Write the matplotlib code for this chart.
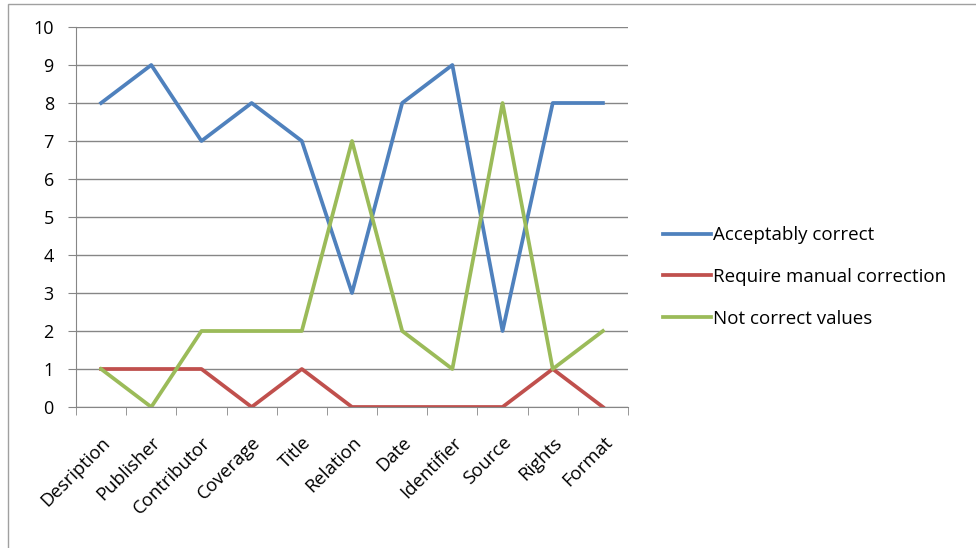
import matplotlib.pyplot as plt
from matplotlib.patches import Rectangle
import numpy as np

categories = ['Desription', 'Publisher', 'Contributor', 'Coverage', 'Title', 'Relation',
              'Date', 'Identifier', 'Source', 'Rights', 'Format']
acceptably_correct = [8, 9, 7, 8, 7, 3, 8, 9, 2, 8, 8]
manual_correction = [1, 1, 1, 0, 1, 0, 0, 0, 0, 1, 0]
not_correct = [1, 0, 2, 2, 2, 7, 2, 1, 8, 1, 2]

plt.rcParams['font.family'] = ['Open Sans', 'DejaVu Sans']

fig = plt.figure(figsize=(9.76, 5.48), dpi=100)
ax = fig.add_axes([76 / 976, 1 - 407 / 548, 552 / 976, 380 / 548])

x = np.arange(len(categories))
ax.plot(x, acceptably_correct, color='#4F81BD', lw=2.7, label='Acceptably correct')
ax.plot(x, manual_correction, color='#C0504D', lw=2.7, label='Require manual correction')
ax.plot(x, not_correct, color='#9BBB59', lw=2.7, label='Not correct values')

ax.set_xlim(-0.5, len(categories) - 0.5)
ax.set_ylim(0, 10)
ax.set_yticks(range(0, 11))
ax.yaxis.grid(True, color='#868686', lw=1)
ax.set_axisbelow(True)

ax.set_xticks(x)
ax.set_xticklabels(categories, rotation=45, ha='right', rotation_mode='anchor', fontsize=13.3)
ax.set_xticks(np.arange(-0.5, len(categories)), minor=True)
ax.tick_params(axis='x', which='major', length=0, pad=19)
ax.tick_params(axis='x', which='minor', length=6, color='#868686')
ax.tick_params(axis='y', length=6, color='#868686', labelsize=13, pad=10)

for s in ['top', 'right']:
    ax.spines[s].set_visible(False)
for s in ['left', 'bottom']:
    ax.spines[s].set_color('#868686')

ax.legend(loc='center left', bbox_to_anchor=((655 - 76) / 552, (407 - 277) / 380), frameon=False,
          fontsize=13.5, handlelength=2.6, handletextpad=0.1, labelspacing=1.26, borderaxespad=0)

fig.patches.append(Rectangle((8 / 976, -0.1), 1.0, 1 - 4 / 548 + 0.1, transform=fig.transFigure,
                             fill=False, edgecolor='#A0A0A0', lw=1))

fig.savefig('out.png', dpi=100)
